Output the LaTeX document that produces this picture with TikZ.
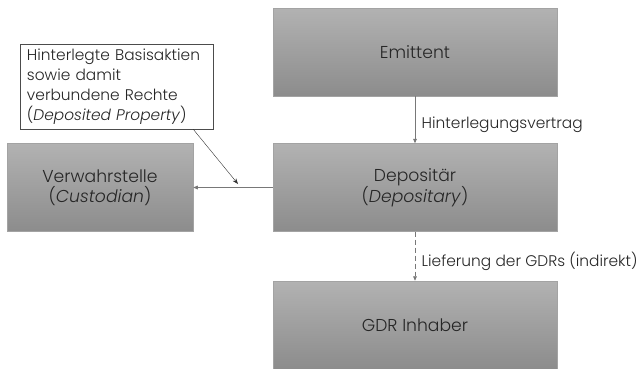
\documentclass[tikz,border=0pt]{standalone}
\usepackage{fontspec}
\setmainfont{Poppins Light}[ItalicFont={Poppins Light Italic}]
\usetikzlibrary{arrows.meta, positioning}
\definecolor{boxtop}{RGB}{178,178,178}
\definecolor{boxbottom}{RGB}{140,140,140}
\definecolor{linecolor}{RGB}{120,120,120}

\begin{document}
\begin{tikzpicture}[
    x=1pt, y=-1pt,
    party/.style={draw=boxbottom!80, top color=boxtop, bottom color=boxbottom, minimum width=284pt, minimum height=88pt, font=\fontsize{17.2}{20}\selectfont, align=center, text=black!85},
    note/.style={draw=black!70, fill=white, minimum width=193pt, minimum height=85pt, font=\fontsize{15.4}{20}\selectfont, align=left, text=black!85, inner xsep=7pt, inner ysep=4pt},
    flow/.style={-{Triangle[length=1.6mm, width=1.3mm]}, draw=linecolor, thick},
    lbl/.style={font=\fontsize{15.4}{18}\selectfont, text=black!85, right, xshift=3pt, yshift=-5pt}
]
    \useasboundingbox (0,0) rectangle (642,368);

    \node[party] (emit) at (415,52) {Emittent};
    \node[party] (dep) at (415,187.5) {Depositär\\(\textit{Depositary})};
    \node[party] (gdr) at (415,325) {GDR Inhaber};
    \node[party, minimum width=186pt] (cust) at (100,187.5) {Verwahrstelle\\(\textit{Custodian})};

    % Callout
    \node[note, text width=179pt] (prop) at (116.5,86.5) {Hinterlegte Basisaktien\\sowie damit\\verbundene Rechte\\(\textit{Deposited Property})};
    \coordinate (tip) at (238,184);

    % Connectors
    \draw[flow] (emit) -- (dep) node[lbl, midway] {Hinterlegungsvertrag};
    \draw[flow, dash pattern=on 5pt off 3pt] (dep) -- (gdr) node[lbl, midway] {Lieferung der GDRs (indirekt)};
    \draw[flow] (dep) -- (cust);
    \draw[-{Stealth[length=2mm]}, black!80] (prop.south east) ++(-20pt,0) -- (tip);
\end{tikzpicture}
\end{document}
